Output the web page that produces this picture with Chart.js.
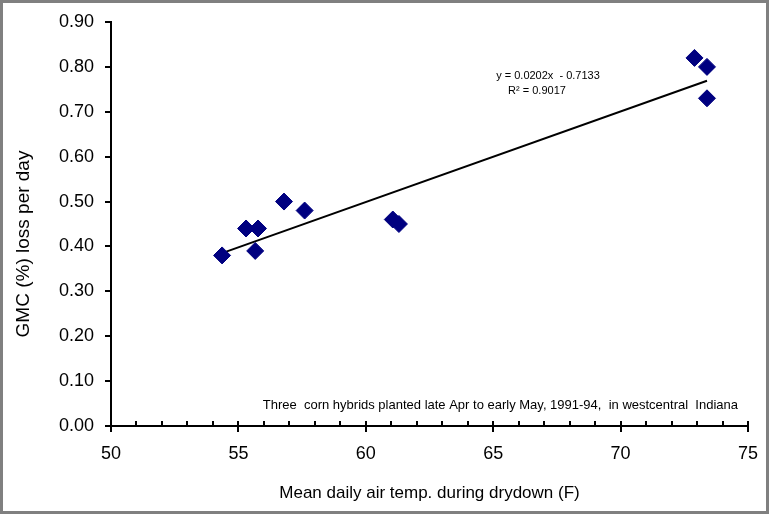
<!DOCTYPE html>
<html lang="en">
<head>
<meta charset="UTF-8">
<title>GMC loss vs air temp</title>
<script src="https://cdn.jsdelivr.net/npm/chart.js"></script>
<style>
  html, body { margin: 0; padding: 0; background: #fff; }
  #wrap { width: 769px; height: 514px; }
</style>
</head>
<body>
<div id="wrap"><canvas id="grafico" width="769" height="514"></canvas></div>

<script>
// mean daily air temp (F) and GMC loss per day (%)
var temps = [54.36, 55.30, 55.77, 55.66, 56.79, 57.60, 61.06, 61.30, 72.90, 73.39, 73.39];
var perdas = [0.38, 0.44, 0.44, 0.39, 0.50, 0.48, 0.46, 0.45, 0.82, 0.80, 0.73];

// linear trendline ends
var trendX = [54.36, 73.39];
var trendY = [0.385, 0.769];

var xTicks = [50, 55, 60, 65, 70, 75];
var yTicks = [0, 0.1, 0.2, 0.3, 0.4, 0.5, 0.6, 0.7, 0.8, 0.9];

var tituloY = 'GMC (%) loss per day';
var equacao = ['y = 0.0202x  - 0.7133', 'R\u00b2 = 0.9017'];
var nota = 'Three  corn hybrids planted late Apr to early May, 1991-94,  in westcentral  Indiana';

var fonte = '"Liberation Sans", Arial, sans-serif';

// border, tick marks, y title and text notes
var extras = {
  id: 'extras',
  afterDraw: function (chart) {
    var ctx = chart.ctx;
    var xs = chart.scales.x, ys = chart.scales.y;
    var area = chart.chartArea;
    ctx.save();

    ctx.strokeStyle = '#000';
    ctx.lineWidth = 2;
    ctx.beginPath();
    for (var v = 50; v <= 75; v++) {
      var px = Math.round(xs.getPixelForValue(v));
      ctx.moveTo(px, area.bottom - 5);
      ctx.lineTo(px, v % 5 === 0 ? area.bottom + 6 : area.bottom);
    }
    yTicks.forEach(function (t) {
      var py = Math.round(ys.getPixelForValue(t));
      ctx.moveTo(area.left - 6, py);
      ctx.lineTo(area.left, py);
    });
    ctx.stroke();

    ctx.fillStyle = '#000';
    ctx.textAlign = 'center';
    ctx.textBaseline = 'middle';

    // y axis title (sits a bit below the middle in the original)
    ctx.save();
    ctx.translate(24, 244);
    ctx.rotate(-Math.PI / 2);
    ctx.font = '19px ' + fonte;
    ctx.fillText(tituloY, 0, 0);
    ctx.restore();

    ctx.font = '11px ' + fonte;
    ctx.fillText(equacao[0], 548, 76);
    ctx.fillText(equacao[1], 537, 91);

    ctx.textAlign = 'right';
    ctx.font = '13px ' + fonte;
    ctx.fillText(nota, 738, 405);

    ctx.strokeStyle = '#808080';
    ctx.lineWidth = 3;
    ctx.strokeRect(1.5, 1.5, chart.width - 3, chart.height - 3);
    ctx.restore();
  }
};

new Chart(document.getElementById('grafico'), {
  type: 'scatter',
  data: {
    datasets: [{
      label: 'GMC loss',
      data: temps.map(function (t, i) { return { x: t, y: perdas[i] }; }),
      pointStyle: 'rectRot',
      pointRadius: 8.5,
      backgroundColor: '#000080',
      borderColor: '#000080',
      borderWidth: 1
    }, {
      label: 'Linear',
      type: 'line',
      data: trendX.map(function (t, i) { return { x: t, y: trendY[i] }; }),
      borderColor: '#000',
      borderWidth: 2,
      pointRadius: 0,
      fill: false
    }]
  },
  options: {
    responsive: false,
    animation: false,
    layout: { padding: { left: 0, top: 22, right: 21, bottom: 0 } },
    plugins: {
      legend: { display: false },
      tooltip: { enabled: false }
    },
    scales: {
      x: {
        type: 'linear',
        min: 50, max: 75,
        afterBuildTicks: function (s) { s.ticks = xTicks.map(function (v) { return { value: v }; }); },
        afterFit: function (s) { s.height = 88; s.paddingLeft = 0; s.paddingRight = 0; },
        grid: { display: false, drawTicks: false },
        border: { display: true, color: '#000', width: 2 },
        ticks: { color: '#000', padding: 17, font: { family: fonte, size: 18 } },
        title: {
          display: true,
          text: 'Mean daily air temp. during drydown (F)',
          color: '#000',
          padding: { top: 0, bottom: 10 },
          font: { family: fonte, size: 17 }
        }
      },
      y: {
        type: 'linear',
        min: 0, max: 0.9,
        afterBuildTicks: function (s) { s.ticks = yTicks.map(function (v) { return { value: v }; }); },
        afterFit: function (s) { s.width = 111; s.paddingTop = 0; s.paddingBottom = 0; },
        grid: { display: false, drawTicks: false },
        border: { display: true, color: '#000', width: 2 },
        ticks: {
          color: '#000', padding: 17,
          font: { family: fonte, size: 18 },
          callback: function (v) { return v.toFixed(2); }
        },
        title: { display: false }
      }
    }
  },
  plugins: [extras]
});
</script>
</body>
</html>
